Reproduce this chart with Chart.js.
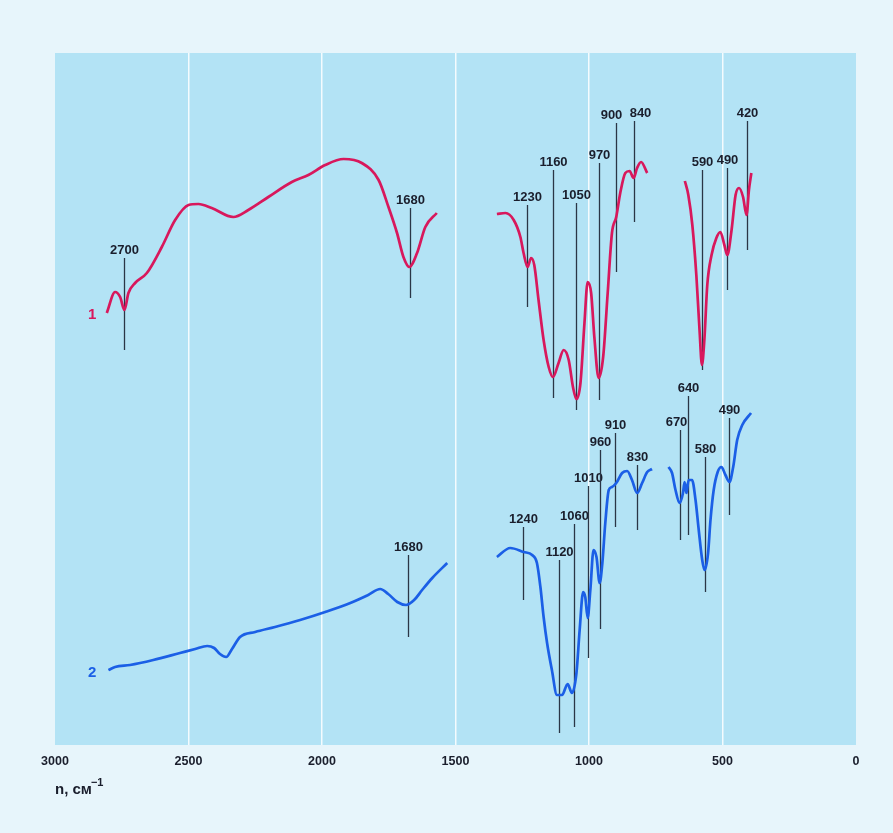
<!DOCTYPE html>
<html>
<head>
<meta charset="utf-8">
<script src="https://cdn.jsdelivr.net/npm/chart.js@4.4.0/dist/chart.umd.min.js"></script>
<style>
  html, body { margin: 0; padding: 0; background: #e7f5fb; }
  #wrap { width: 893px; height: 833px; }
</style>
</head>
<body>
<div id="wrap"><canvas id="ir" width="893" height="833"></canvas></div>
<script>
// --- spectrum 1 (wavenumber, cm-1 / relative transmittance) ---
const s1aWn = [2806, 2775, 2756, 2740, 2725, 2700, 2656, 2600, 2550, 2500, 2463, 2413, 2332, 2276, 2201, 2113, 2051, 1988, 1919, 1851, 1788, 1751, 1719, 1695, 1673, 1644, 1613, 1570];
const s1aT  = [432, 453, 448, 435, 452, 462, 472, 498, 525, 540, 541, 537, 528, 535, 548, 563, 570, 580, 586, 582, 565, 538, 512, 488, 478, 492, 518, 532];
const s1bWn = [1345, 1313, 1282, 1257, 1245, 1230, 1217, 1205, 1189, 1170, 1151, 1135, 1114, 1095, 1076, 1060, 1047, 1032, 1017, 1005, 992, 980, 964, 947, 930, 914, 898, 883, 864, 848, 833, 820, 805, 782];
const s1bT  = [531, 532, 525, 508, 492, 478, 487, 480, 445, 405, 378, 368, 382, 395, 385, 358, 346, 362, 422, 463, 452, 408, 367, 388, 452, 512, 528, 552, 572, 574, 567, 577, 583, 572];
const s1cWn = [641, 628, 613, 598, 586, 577, 568, 557, 541, 523, 508, 493, 482, 466, 451, 438, 423, 410, 401, 392];
const s1cT  = [564, 550, 520, 470, 415, 380, 405, 460, 490, 507, 513, 500, 490, 515, 550, 557, 548, 530, 555, 572];

// --- spectrum 2 ---
const s2aWn = [2800, 2775, 2719, 2632, 2532, 2475, 2430, 2404, 2382, 2359, 2337, 2307, 2250, 2176, 2082, 1988, 1894, 1827, 1782, 1752, 1718, 1685, 1655, 1625, 1587, 1531];
const s2aT  = [75, 78, 80, 85, 92, 96, 99, 97, 91, 88, 96, 108, 113, 118, 125, 133, 142, 150, 156, 151, 143, 140, 145, 155, 167, 182];
const s2bWn = [1345, 1295, 1245, 1213, 1195, 1182, 1170, 1157, 1139, 1120, 1101, 1080, 1064, 1047, 1035, 1022, 1014, 1005, 995, 983, 972, 960, 950, 939, 926, 914, 898, 876, 857, 839, 820, 801, 782, 764];
const s2bT  = [188, 197, 193, 190, 182, 158, 128, 102, 75, 50, 50, 61, 52, 72, 115, 153, 148, 127, 155, 195, 188, 162, 182, 222, 255, 258, 262, 272, 274, 265, 252, 262, 273, 276];
const s2cWn = [702, 689, 676, 661, 648, 642, 635, 627, 614, 601, 589, 576, 567, 554, 545, 533, 518, 504, 489, 474, 460, 445, 426, 393];
const s2cT  = [278, 272, 255, 242, 252, 263, 252, 265, 265, 245, 215, 185, 175, 192, 225, 255, 273, 278, 270, 263, 278, 305, 320, 332];

// --- band markers: label, position on axis, upper and lower end of the stroke ---
const peaks1Label = ['2700', '1680', '1230', '1160', '1050', '970', '900', '840', '590', '490', '420'];
const peaks1Wn    = [2740, 1670, 1232, 1136, 1049, 961, 900, 831, 576, 483, 410];
const peaks1Top   = [487, 537, 540, 575, 542, 582, 622, 624, 575, 577, 624];
const peaks1Bot   = [395, 447, 438, 347, 335, 345, 473, 523, 375, 455, 495];

const peaks2Label = ['1680', '1240', '1120', '1060', '1010', '960', '910', '830', '670', '640', '580', '490'];
const peaks2Wn    = [1677, 1247, 1111, 1058, 1004, 960, 901, 820, 660, 630, 567, 474];
const peaks2Top   = [190, 218, 185, 221, 259, 295, 312, 280, 315, 349, 288, 327];
const peaks2Bot   = [108, 145, 12, 18, 87, 116, 218, 215, 205, 210, 153, 230];

const xTicks = [3000, 2500, 2000, 1500, 1000, 500, 0];

const RED = '#d8185c';
const BLUE = '#1b5fe6';
const INK = '#1a1e2c';
const FONT = "'Liberation Sans', Arial, sans-serif";

// labels that sit a little off their stroke in the original, to avoid crowding
const labelNudge = { '900': -5, '840': 6, '670': -4 };

const toPts = (wn, t) => wn.map((w, i) => ({ x: w, y: t[i] }));

const seg = (wn, t, color) => ({
    data: toPts(wn, t),
    borderColor: color,
    borderWidth: 2.7,
    pointRadius: 0,
    fill: false,
    cubicInterpolationMode: 'monotone'
});

const plotBg = {
    id: 'plotBg',
    beforeDraw(chart) {
        const { ctx, chartArea: a } = chart;
        ctx.save();
        ctx.fillStyle = '#b3e3f5';
        ctx.fillRect(a.left, a.top, a.right - a.left, a.bottom - a.top);
        ctx.restore();
    },
    afterDraw(chart) {
        // axis caption, left aligned under the first tick
        const { ctx, chartArea: a } = chart;
        ctx.save();
        ctx.fillStyle = INK;
        ctx.textAlign = 'left';
        ctx.textBaseline = 'alphabetic';
        ctx.font = 'bold 15px ' + FONT;
        const base = 'n, см';
        ctx.fillText(base, a.left, 794);
        const w = ctx.measureText(base).width;
        ctx.font = 'bold 11px ' + FONT;
        ctx.fillText('−1', a.left + w - 1, 786);
        ctx.restore();
    }
};

const bandMarks = {
    id: 'bandMarks',
    beforeDatasetsDraw(chart) {
        const { ctx, scales: { x, y } } = chart;
        const draw = (labels, wn, top, bot) => {
            labels.forEach((lab, i) => {
                const px = Math.round(x.getPixelForValue(wn[i])) + 0.5;
                const y1 = y.getPixelForValue(top[i]);
                const y2 = y.getPixelForValue(bot[i]);
                ctx.strokeStyle = '#2a3646';
                ctx.lineWidth = 1.3;
                ctx.beginPath();
                ctx.moveTo(px, y1);
                ctx.lineTo(px, y2);
                ctx.stroke();
                ctx.fillStyle = INK;
                ctx.font = 'bold 13px ' + FONT;
                ctx.textAlign = 'center';
                ctx.textBaseline = 'alphabetic';
                ctx.fillText(lab, px + (labelNudge[lab] || 0), y1 - 4);
            });
        };
        ctx.save();
        draw(peaks1Label, peaks1Wn, peaks1Top, peaks1Bot);
        draw(peaks2Label, peaks2Wn, peaks2Top, peaks2Bot);
        ctx.restore();
    },
    afterDatasetsDraw(chart) {
        const { ctx, scales: { x, y } } = chart;
        ctx.save();
        ctx.font = 'bold 15px ' + FONT;
        ctx.textAlign = 'center';
        ctx.textBaseline = 'middle';
        ctx.fillStyle = RED;
        ctx.fillText('1', x.getPixelForValue(2861), y.getPixelForValue(430));
        ctx.fillStyle = BLUE;
        ctx.fillText('2', x.getPixelForValue(2861), y.getPixelForValue(72));
        ctx.restore();
    }
};

new Chart(document.getElementById('ir'), {
    type: 'line',
    data: {
        datasets: [
            seg(s1aWn, s1aT, RED),
            seg(s1bWn, s1bT, RED),
            seg(s1cWn, s1cT, RED),
            seg(s2aWn, s2aT, BLUE),
            seg(s2bWn, s2bT, BLUE),
            seg(s2cWn, s2cT, BLUE)
        ]
    },
    options: {
        responsive: false,
        animation: false,
        events: [],
        layout: { padding: { left: 55, right: 37, top: 53, bottom: 0 } },
        plugins: { legend: { display: false }, tooltip: { enabled: false } },
        scales: {
            x: {
                type: 'linear',
                reverse: true,
                min: 0,
                max: 3000,
                afterBuildTicks: s => { s.ticks = xTicks.map(v => ({ value: v })); },
                afterFit: s => { s.height = 88; },
                ticks: {
                    color: INK,
                    padding: 9,
                    font: { family: FONT, size: 12.5, weight: 'bold' },
                    callback: v => String(v)
                },
                grid: {
                    drawTicks: false,
                    lineWidth: 1.5,
                    color: c => (c.tick && (c.tick.value === 0 || c.tick.value === 3000)) ? 'rgba(0,0,0,0)' : '#f4fbfe'
                },
                border: { display: false }
            },
            y: {
                display: false,
                min: 0,
                max: 692
            }
        }
    },
    plugins: [plotBg, bandMarks]
});
</script>
</body>
</html>
